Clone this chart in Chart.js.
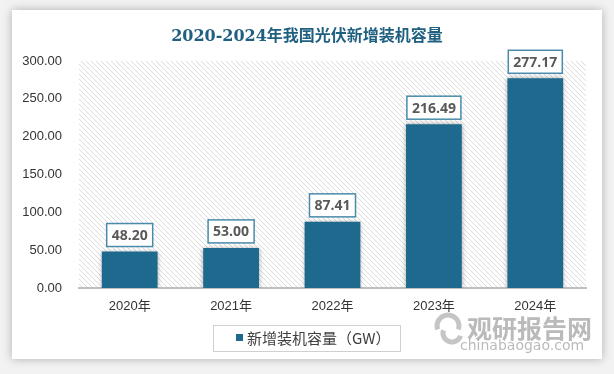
<!DOCTYPE html>
<html>
<head>
<meta charset="utf-8">
<script src="https://cdn.jsdelivr.net/npm/chart.js@4"></script>
<style>
  html, body { margin: 0; padding: 0; background: #ffffff; }
  #wrap { width: 614px; height: 374px; position: relative; }
</style>
</head>
<body>
<div id="wrap"><canvas id="solar-chart" width="614" height="374"></canvas></div>
<script>
const years = ['2020年', '2021年', '2022年', '2023年', '2024年'];
const capacity = [48.20, 53.00, 87.41, 216.49, 277.17];
const seriesName = '新增装机容量（GW）';
const chartTitle = '2020-2024年我国光伏新增装机容量';
const barColor = '#1d6a8e';

// diagonal hatch for the plot background
function makeHatch() {
  const c = document.createElement('canvas');
  c.width = 5; c.height = 5;
  const g = c.getContext('2d');
  g.fillStyle = '#ffffff';
  g.fillRect(0, 0, 5, 5);
  g.strokeStyle = '#dcdcdc';
  g.lineWidth = 1;
  g.beginPath();
  g.moveTo(-1, -1); g.lineTo(6, 6);
  g.moveTo(-1, 4); g.lineTo(1, 6);
  g.moveTo(4, -1); g.lineTo(6, 1);
  g.stroke();
  return c;
}

const backdrop = {
  id: 'backdrop',
  beforeDraw(chart) {
    const ctx = chart.ctx;
    const a = chart.chartArea;
    ctx.save();
    ctx.fillStyle = '#f2f2f2';
    ctx.fillRect(0, 0, chart.width, chart.height);
    ctx.shadowColor = 'rgba(0,0,0,0.28)';
    ctx.shadowBlur = 9;
    ctx.fillStyle = '#ffffff';
    ctx.fillRect(12, 10, 590, 349);
    ctx.restore();

    ctx.save();
    ctx.fillStyle = ctx.createPattern(makeHatch(), 'repeat');
    ctx.fillRect(a.left, a.top, a.right - a.left, a.bottom - a.top);
    ctx.restore();

    // title
    ctx.save();
    ctx.font = 'bold 16px "DejaVu Serif", "Noto Sans CJK SC", serif';
    ctx.fillStyle = '#1f5f80';
    ctx.textAlign = 'center';
    ctx.textBaseline = 'middle';
    ctx.fillText(chartTitle, 307, 37);
    ctx.restore();
  },
  beforeDatasetsDraw(chart) {
    chart.ctx.save();
    chart.ctx.shadowColor = 'rgba(0,0,0,0.35)';
    chart.ctx.shadowBlur = 5;
  },
  afterDatasetsDraw(chart) {
    const ctx = chart.ctx;
    ctx.restore();
    // value labels in boxes
    const meta = chart.getDatasetMeta(0);
    ctx.save();
    ctx.font = 'bold 14px "Open Sans", "Liberation Sans", sans-serif';
    ctx.textAlign = 'center';
    ctx.textBaseline = 'middle';
    meta.data.forEach((bar, i) => {
      const txt = capacity[i].toFixed(2);
      const w = ctx.measureText(txt).width + 10;
      const h = 23;
      const x = bar.x - w / 2;
      const y = bar.y - 5 - h;
      ctx.fillStyle = '#ffffff';
      ctx.fillRect(x, y, w, h);
      ctx.strokeStyle = '#4a8bab';
      ctx.lineWidth = 1.5;
      ctx.strokeRect(x, y, w, h);
      ctx.fillStyle = '#595959';
      ctx.fillText(txt, bar.x, y + h / 2 + 1);
    });
    ctx.restore();
  },
  afterDraw(chart) {
    const ctx = chart.ctx;
    // legend
    ctx.save();
    ctx.strokeStyle = '#d0d0d0';
    ctx.lineWidth = 1;
    ctx.fillStyle = '#ffffff';
    ctx.fillRect(213.5, 325.5, 187, 26);
    ctx.strokeRect(213.5, 325.5, 187, 26);
    ctx.fillStyle = barColor;
    ctx.fillRect(236, 334, 7, 7);
    ctx.font = '15px "Noto Sans CJK SC", sans-serif';
    ctx.fillStyle = '#404040';
    ctx.textBaseline = 'middle';
    ctx.fillText(seriesName, 247, 338);
    ctx.restore();

    // watermark
    ctx.save();
    ctx.strokeStyle = 'rgba(150,150,150,0.55)';
    ctx.lineWidth = 5;
    ctx.beginPath();
    ctx.arc(448, 326, 11, Math.PI * 0.9, Math.PI * 2.1);
    ctx.stroke();
    ctx.beginPath();
    ctx.arc(452, 333, 9, Math.PI * 0.1, Math.PI * 1.1);
    ctx.stroke();
    ctx.fillStyle = 'rgba(140,140,140,0.6)';
    ctx.font = 'bold 25px "Noto Sans CJK SC", sans-serif';
    ctx.textBaseline = 'middle';
    ctx.fillText('观研报告网', 467, 328);
    ctx.font = '14px "DejaVu Sans", sans-serif';
    ctx.fillText('chinabaogao.com', 460, 346);
    ctx.restore();
  }
};

new Chart(document.getElementById('solar-chart').getContext('2d'), {
  type: 'bar',
  data: {
    labels: years,
    datasets: [{
      label: seriesName,
      data: capacity,
      backgroundColor: barColor,
      borderWidth: 0,
      categoryPercentage: 1,
      barPercentage: 0.55
    }]
  },
  options: {
    responsive: false,
    animation: false,
    layout: { padding: { top: 61, right: 28, left: 0, bottom: 0 } },
    plugins: {
      legend: { display: false },
      tooltip: { enabled: false }
    },
    scales: {
      y: {
        min: 0,
        max: 300,
        afterFit(scale) { scale.width = 79; },
        ticks: {
          stepSize: 50,
          padding: 17,
          color: '#333333',
          font: { size: 13, family: '"Liberation Sans", sans-serif' },
          callback: (v) => Number(v).toFixed(2)
        },
        grid: { display: false, drawTicks: false },
        border: { display: false }
      },
      x: {
        afterFit(scale) { scale.height = 86; },
        ticks: {
          padding: 11,
          color: '#333333',
          font: { size: 13, family: '"Liberation Sans", "Noto Sans CJK SC", sans-serif' }
        },
        grid: { display: false, drawTicks: false },
        border: { display: true, color: '#bfbfbf', width: 2 }
      }
    }
  },
  plugins: [backdrop]
});
</script>
</body>
</html>
